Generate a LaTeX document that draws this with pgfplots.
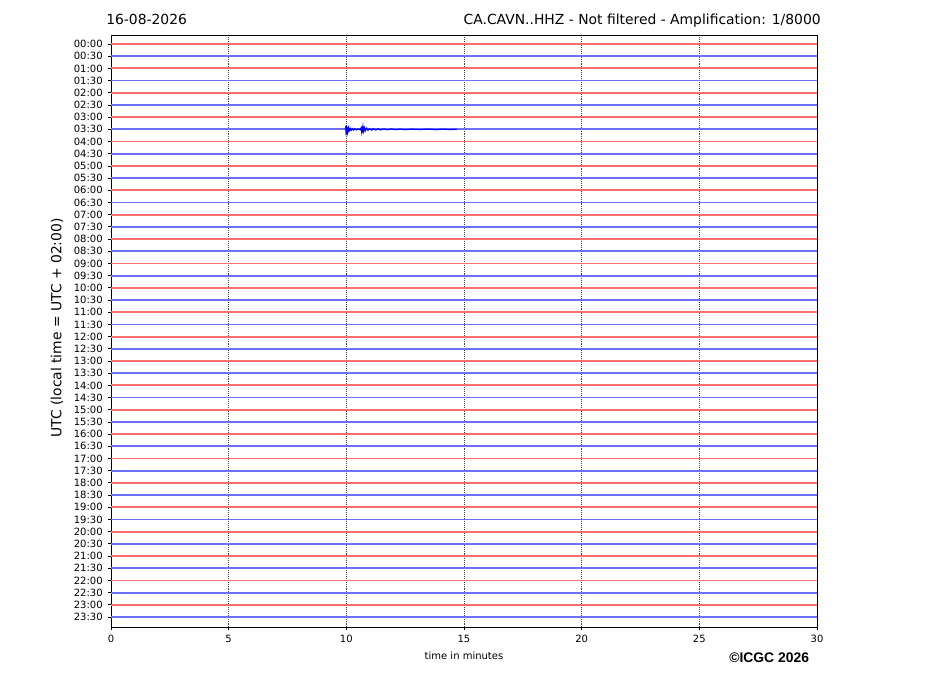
\documentclass[border=0pt]{standalone}
\usepackage{pgfplots}
\pgfplotsset{compat=1.18}
\usepackage{fontspec}
\setmainfont{DejaVu Sans}
\newfontfamily\boldarial{Liberation Sans}[BoldFont={Liberation Sans Bold}]

\definecolor{trred}{RGB}{255,110,110}
\definecolor{trblue}{RGB}{110,110,255}
\pgfplotsset{trace/.style={line width=1.3pt}}

\begin{document}
\begin{tikzpicture}[x=0.72pt,y=0.72pt]
\useasboundingbox (0,0) rectangle (927,696);

% titles and labels (pixel coordinates, y from bottom)
\node[anchor=base west,inner sep=0,font=\fontsize{10}{12}\selectfont] at (106,671) {16-08-2026};
\node[anchor=base east,inner sep=0,font=\fontsize{10}{12}\selectfont] at (821,671) {CA.CAVN..HHZ - Not filtered - Amplification: 1/8000};
\node[anchor=base,inner sep=0,font=\fontsize{7.2}{9}\selectfont] at (464,36) {time in minutes};
\node[rotate=90,inner sep=0,font=\fontsize{10}{12}\selectfont] at (57,368) {UTC (local time = UTC + 02:00)};
\node[anchor=base west,inner sep=0,font=\boldarial\bfseries\fontsize{10}{12}\selectfont] at (729,33) {©ICGC 2026};

\begin{axis}[
  at={(79.92pt,49.68pt)}, anchor=south west,
  scale only axis,
  width=508.32pt, height=426.24pt,
  xmin=0, xmax=30,
  ymin=-47.82, ymax=0.74,
  xtick={0,5,10,15,20,25,30},
  ytick={0,-1,-2,-3,-4,-5,-6,-7,-8,-9,-10,-11,-12,-13,-14,-15,-16,-17,-18,-19,-20,-21,-22,-23,-24,-25,-26,-27,-28,-29,-30,-31,-32,-33,-34,-35,-36,-37,-38,-39,-40,-41,-42,-43,-44,-45,-46,-47},
  yticklabels={00:00,00:30,01:00,01:30,02:00,02:30,03:00,03:30,04:00,04:30,05:00,05:30,06:00,06:30,07:00,07:30,08:00,08:30,09:00,09:30,10:00,10:30,11:00,11:30,12:00,12:30,13:00,13:30,14:00,14:30,15:00,15:30,16:00,16:30,17:00,17:30,18:00,18:30,19:00,19:30,20:00,20:30,21:00,21:30,22:00,22:30,23:00,23:30},
  xtick pos=bottom, ytick pos=left,
  tick align=outside,
  major tick length=2.5pt,
  tick style={black, line width=0.6pt},
  axis line style={black, line width=0.6pt},
  ticklabel style={font=\fontsize{7.2}{8}\selectfont},
  /pgf/number format/assume math mode=true,
  xmajorgrids=true, ymajorgrids=false,
  grid style={black!75, densely dotted, line width=0.5pt},
  clip=true,
]
% red traces: 00:00, 01:00, ... 23:00
\addplot[trred, trace] coordinates {(0,0) (30,0)};
\addplot[trred, trace] coordinates {(0,-2) (30,-2)};
\addplot[trred, trace] coordinates {(0,-4) (30,-4)};
\addplot[trred, trace] coordinates {(0,-6) (30,-6)};
\addplot[trred, trace] coordinates {(0,-8) (30,-8)};
\addplot[trred, trace] coordinates {(0,-10) (30,-10)};
\addplot[trred, trace] coordinates {(0,-12) (30,-12)};
\addplot[trred, trace] coordinates {(0,-14) (30,-14)};
\addplot[trred, trace] coordinates {(0,-16) (30,-16)};
\addplot[trred, trace] coordinates {(0,-18) (30,-18)};
\addplot[trred, trace] coordinates {(0,-20) (30,-20)};
\addplot[trred, trace] coordinates {(0,-22) (30,-22)};
\addplot[trred, trace] coordinates {(0,-24) (30,-24)};
\addplot[trred, trace] coordinates {(0,-26) (30,-26)};
\addplot[trred, trace] coordinates {(0,-28) (30,-28)};
\addplot[trred, trace] coordinates {(0,-30) (30,-30)};
\addplot[trred, trace] coordinates {(0,-32) (30,-32)};
\addplot[trred, trace] coordinates {(0,-34) (30,-34)};
\addplot[trred, trace] coordinates {(0,-36) (30,-36)};
\addplot[trred, trace] coordinates {(0,-38) (30,-38)};
\addplot[trred, trace] coordinates {(0,-40) (30,-40)};
\addplot[trred, trace] coordinates {(0,-42) (30,-42)};
\addplot[trred, trace] coordinates {(0,-44) (30,-44)};
\addplot[trred, trace] coordinates {(0,-46) (30,-46)};
% blue traces: 00:30, 01:30, ... 23:30
\addplot[trblue, trace] coordinates {(0,-1) (30,-1)};
\addplot[trblue, trace] coordinates {(0,-3) (30,-3)};
\addplot[trblue, trace] coordinates {(0,-5) (30,-5)};
\addplot[trblue, trace] coordinates {(0,-7) (30,-7)};
\addplot[trblue, trace] coordinates {(0,-9) (30,-9)};
\addplot[trblue, trace] coordinates {(0,-11) (30,-11)};
\addplot[trblue, trace] coordinates {(0,-13) (30,-13)};
\addplot[trblue, trace] coordinates {(0,-15) (30,-15)};
\addplot[trblue, trace] coordinates {(0,-17) (30,-17)};
\addplot[trblue, trace] coordinates {(0,-19) (30,-19)};
\addplot[trblue, trace] coordinates {(0,-21) (30,-21)};
\addplot[trblue, trace] coordinates {(0,-23) (30,-23)};
\addplot[trblue, trace] coordinates {(0,-25) (30,-25)};
\addplot[trblue, trace] coordinates {(0,-27) (30,-27)};
\addplot[trblue, trace] coordinates {(0,-29) (30,-29)};
\addplot[trblue, trace] coordinates {(0,-31) (30,-31)};
\addplot[trblue, trace] coordinates {(0,-33) (30,-33)};
\addplot[trblue, trace] coordinates {(0,-35) (30,-35)};
\addplot[trblue, trace] coordinates {(0,-37) (30,-37)};
\addplot[trblue, trace] coordinates {(0,-39) (30,-39)};
\addplot[trblue, trace] coordinates {(0,-41) (30,-41)};
\addplot[trblue, trace] coordinates {(0,-43) (30,-43)};
\addplot[trblue, trace] coordinates {(0,-45) (30,-45)};
\addplot[trblue, trace] coordinates {(0,-47) (30,-47)};
% 03:30 event near minute 10
\addplot[blue, line width=0.8pt] coordinates {
(9.96,-7) (9.98,-6.72) (9.99,-7.5) (10.0,-6.68) (10.02,-7.38) (10.04,-6.82) (10.06,-7.22)
(10.09,-6.88) (10.12,-7.13) (10.16,-6.92) (10.2,-7.09) (10.25,-6.94) (10.3,-7.07) (10.36,-6.95)
(10.42,-7.05) (10.5,-6.96) (10.58,-7.04) (10.62,-6.9) (10.65,-7.22) (10.67,-6.72) (10.69,-7.26)
(10.71,-6.78) (10.74,-7.16) (10.77,-6.86) (10.81,-7.11) (10.86,-6.91) (10.92,-7.08) (10.99,-6.93)
(11.07,-7.07) (11.15,-6.94) (11.25,-7.06) (11.35,-6.95) (11.45,-7.05) (11.6,-6.96) (11.75,-7.04)
(11.9,-6.97) (12.1,-7.03) (12.3,-6.98) (12.5,-7.03) (12.8,-6.98) (13.1,-7.02) (13.5,-6.98)
(13.8,-7.03) (14.1,-6.98) (14.4,-7.02) (14.7,-7)
};
\end{axis}
\end{tikzpicture}
\end{document}
